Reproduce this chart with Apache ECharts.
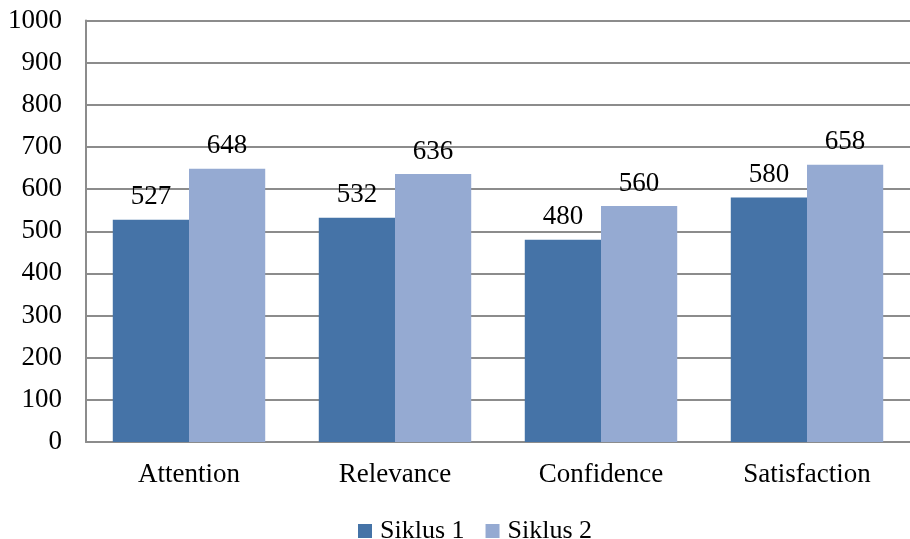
<!DOCTYPE html>
<html><head><meta charset="utf-8">
<script src="https://cdn.jsdelivr.net/npm/echarts@6/dist/echarts.min.js"></script>
<style>html,body{margin:0;padding:0;background:#fff}#c{width:910px;height:539px}</style>
</head><body><div id="c"></div>
<script>
const categories = ['Attention', 'Relevance', 'Confidence', 'Satisfaction'];
const siklus1 = [527, 532, 480, 580];
const siklus2 = [648, 636, 560, 658];
const seriesNames = ['Siklus 1', 'Siklus 2'];

const font = '"Liberation Serif", "Times New Roman", serif';
const fs = 27;
const chart = echarts.init(document.getElementById('c'));
const lbl = {show: true, position: 'top', distance: 9, fontFamily: font, fontSize: fs, color: '#000'};
chart.setOption({
  animation: false,
  textStyle: {fontFamily: font},
  grid: {left: 86, right: 0, top: 20.5, bottom: 97, containLabel: false},
  legend: {
    top: 513, left: 353, itemWidth: 14, itemHeight: 14, itemGap: 21, icon: 'rect',
    textStyle: {fontFamily: font, fontSize: 26, color: '#000', padding: [0, 0, 0, 3]},
    data: seriesNames
  },
  xAxis: {
    type: 'category', data: categories,
    axisLine: {lineStyle: {color: '#8c8c8c', width: 2}},
    axisTick: {show: false},
    axisLabel: {fontFamily: font, fontSize: fs, color: '#000', margin: 19}
  },
  yAxis: {
    type: 'value', min: 0, max: 1000, interval: 100,
    axisLine: {show: true, lineStyle: {color: '#8c8c8c', width: 2}},
    axisTick: {show: false},
    splitLine: {lineStyle: {color: '#8c8c8c', width: 2}},
    axisLabel: {fontFamily: font, fontSize: fs, color: '#000', margin: 24, formatter: v => String(v)}
  },
  series: [
    {name: seriesNames[0], type: 'bar', data: siklus1, barGap: '0%', barCategoryGap: '26%',
     itemStyle: {color: '#4573a7'}, label: lbl},
    {name: seriesNames[1], type: 'bar', data: siklus2, barGap: '0%', barCategoryGap: '26%',
     itemStyle: {color: '#95aad2'}, label: lbl}
  ]
});
</script></body></html>
